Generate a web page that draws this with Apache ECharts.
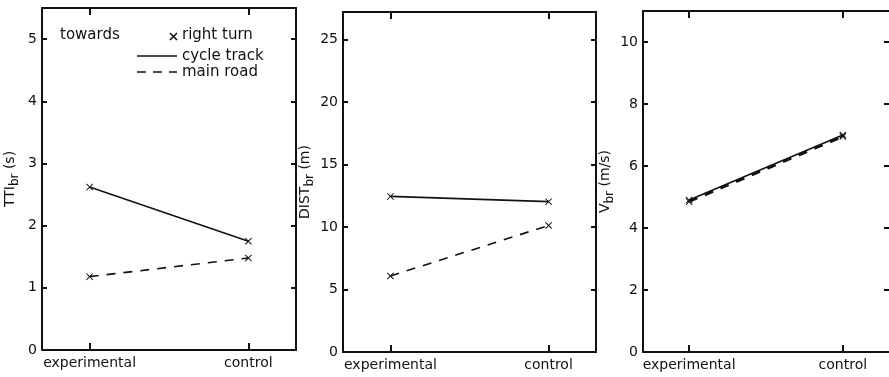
<!DOCTYPE html>
<html>
<head>
<meta charset="utf-8">
<script src="https://cdn.jsdelivr.net/npm/echarts@6/dist/echarts.min.js"></script>
<style>
html,body{margin:0;padding:0;background:#fff;}
#chart{width:889px;height:377px;}
</style>
</head>
<body>
<div id="chart"></div>
<script>
// ---- data ----
var categories = ['experimental', 'control'];
var tti_cycleTrack = [2.62, 1.75];
var tti_mainRoad   = [1.18, 1.48];
var dist_cycleTrack = [12.45, 12.03];
var dist_mainRoad   = [6.08, 10.12];
var v_cycleTrack = [4.9, 7.0];
var v_mainRoad   = [4.85, 6.95];
var yNames = [['TTI', 'br', ' (s)'], ['DIST', 'br', ' (m)'], ['V', 'br', ' (m/s)']];
var yMax = [5.5, 27.2, 11];
var yInterval = [1, 5, 2];
var legendTexts = ['towards', 'right turn', 'cycle track', 'main road'];

var FONT = 'DejaVu Sans';
var BLACK = '#111';
var crossPath = 'path://M0,1L1,0L5,4L9,0L10,1L6,5L10,9L9,10L5,6L1,10L0,9L4,5Z';

var grids = [
  {left: 42, top: 8, width: 254, height: 342},
  {left: 343, top: 12, width: 253, height: 340},
  {left: 643, top: 11, width: 252, height: 341}
];

function toPts(arr) { return arr.map(function (v, i) { return [i, v]; }); }

var xAxes = [], yAxes = [], series = [];
var solidSets = [tti_cycleTrack, dist_cycleTrack, v_cycleTrack];
var dashSets = [tti_mainRoad, dist_mainRoad, v_mainRoad];

grids.forEach(function (g, k) {
  var axisLine = {show: true, onZero: false, lineStyle: {color: BLACK, width: 2}};
  xAxes.push({
    type: 'value', gridIndex: k, position: 'bottom', min: -0.3, max: 1.3,
    axisLine: axisLine,
    axisTick: {show: true, inside: true, length: 7, customValues: [0, 1], lineStyle: {color: BLACK, width: 2}},
    axisLabel: {show: true, customValues: [0, 1], margin: 6, color: BLACK, fontFamily: FONT, fontSize: 14,
      formatter: function (v) { return categories[Math.round(v)] || ''; }},
    splitLine: {show: false}
  });
  xAxes.push({
    type: 'value', gridIndex: k, position: 'top', min: -0.3, max: 1.3,
    axisLine: axisLine,
    axisTick: {show: true, inside: true, length: 7, customValues: [0, 1], lineStyle: {color: BLACK, width: 2}},
    axisLabel: {show: false},
    splitLine: {show: false}
  });
  var n = yNames[k];
  yAxes.push({
    type: 'value', gridIndex: k, position: 'left', min: 0, max: yMax[k], interval: yInterval[k],
    axisLine: axisLine,
    axisTick: {show: true, inside: true, length: 5, lineStyle: {color: BLACK, width: 2}},
    axisLabel: {show: true, margin: 5, color: BLACK, fontFamily: FONT, fontSize: 14, showMaxLabel: false},
    splitLine: {show: false},
    name: '{a|' + n[0] + '}{b|' + n[1] + '}{a|' + n[2] + '}',
    nameLocation: 'middle', nameRotate: 90, nameGap: 25,
    nameTextStyle: {
      color: BLACK, fontFamily: FONT, fontSize: 14,
      rich: {
        a: {color: BLACK, fontFamily: FONT, fontSize: 14, lineHeight: 18, verticalAlign: 'bottom'},
        b: {color: BLACK, fontFamily: FONT, fontSize: 12, lineHeight: 12, verticalAlign: 'bottom', padding: [0, 0, -4, 0]}
      }
    }
  });
  yAxes.push({
    type: 'value', gridIndex: k, position: 'right', min: 0, max: yMax[k], interval: yInterval[k],
    axisLine: {show: k !== 2, onZero: false, lineStyle: {color: BLACK, width: 2}},
    axisTick: {show: true, inside: true, length: 5, lineStyle: {color: BLACK, width: 2}},
    axisLabel: {show: false},
    splitLine: {show: false}
  });
  var common = {
    type: 'line', xAxisIndex: 2 * k, yAxisIndex: 2 * k,
    symbol: crossPath, symbolSize: 7, showSymbol: true,
    itemStyle: {color: BLACK}, silent: true, animation: false
  };
  series.push(Object.assign({}, common, {
    name: 'cycle track', data: toPts(solidSets[k]),
    lineStyle: {color: BLACK, width: 1.6, type: 'solid'}
  }));
  series.push(Object.assign({}, common, {
    name: 'main road', data: toPts(dashSets[k]),
    lineStyle: {color: BLACK, width: k === 2 ? 2.5 : 1.6, type: [9, 8]}
  }));
});

var legendFont = {fontFamily: FONT, fontSize: 15, fill: BLACK};
var graphic = [
  {type: 'text', left: 60, top: 28, style: Object.assign({text: legendTexts[0]}, legendFont)},
  {type: 'line', shape: {x1: 170, y1: 33, x2: 177, y2: 40}, style: {stroke: BLACK, lineWidth: 1.6}},
  {type: 'line', shape: {x1: 177, y1: 33, x2: 170, y2: 40}, style: {stroke: BLACK, lineWidth: 1.6}},
  {type: 'text', left: 182, top: 28, style: Object.assign({text: legendTexts[1]}, legendFont)},
  {type: 'line', shape: {x1: 137, y1: 56, x2: 177, y2: 56}, style: {stroke: BLACK, lineWidth: 1.6}},
  {type: 'text', left: 182, top: 49, style: Object.assign({text: legendTexts[2]}, legendFont)},
  {type: 'line', shape: {x1: 137, y1: 72, x2: 177, y2: 72}, style: {stroke: BLACK, lineWidth: 1.6, lineDash: [9, 7]}},
  {type: 'text', left: 182, top: 65, style: Object.assign({text: legendTexts[3]}, legendFont)}
];

var chart = echarts.init(document.getElementById('chart'), null, {renderer: 'canvas'});
chart.setOption({
  backgroundColor: '#fff',
  animation: false,
  grid: grids,
  xAxis: xAxes,
  yAxis: yAxes,
  series: series,
  graphic: graphic
});
</script>
</body>
</html>
